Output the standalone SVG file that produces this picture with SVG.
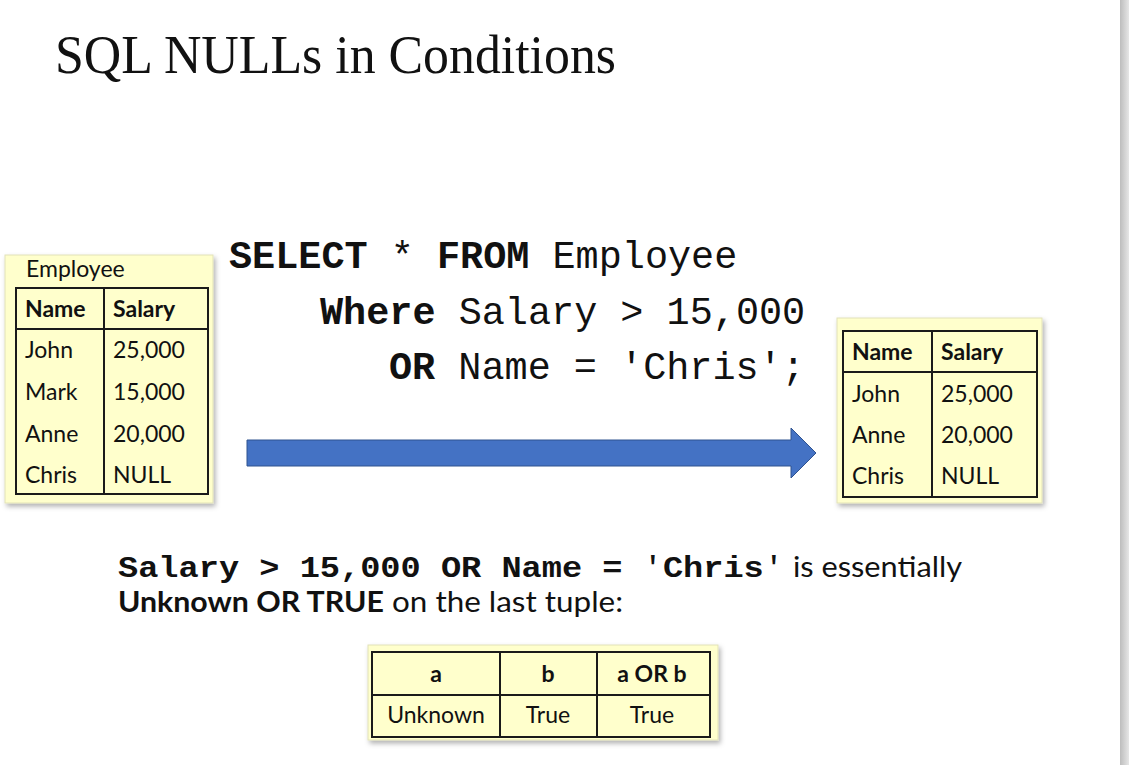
<svg xmlns="http://www.w3.org/2000/svg" width="1129" height="765" viewBox="0 0 1129 765">
<defs>
  <filter id="sh" x="-10%" y="-10%" width="125%" height="125%">
    <feDropShadow dx="2" dy="3" stdDeviation="2.5" flood-color="#000" flood-opacity="0.3"/>
  </filter>
  <linearGradient id="bar" x1="0" y1="0" x2="1" y2="0">
    <stop offset="0" stop-color="#bdbdbd"/>
    <stop offset="1" stop-color="#e6e6e6"/>
  </linearGradient>
</defs>
<style>
  .box { fill: #FFFFCC; stroke: #e2e2b8; stroke-width: 1; }
  .tbl { fill: none; stroke: #1a1a1a; stroke-width: 2; }
  .ln { stroke: #1a1a1a; stroke-width: 2; }
  .cell { font-family: Lato, "Liberation Sans", sans-serif; font-size: 23px; fill: #111; }
  .b { font-weight: bold; }
  .code { font-family: "Liberation Mono", "Courier New", monospace; font-size: 38.5px; fill: #111; }
  .mono { font-family: "Liberation Mono", "Courier New", monospace; font-weight: bold; font-size: 30px; fill: #111; }
  .sans { font-family: Lato, "Liberation Sans", sans-serif; font-size: 28px; fill: #111; }
</style>
<rect x="0" y="0" width="1129" height="765" fill="#ffffff"/>
<rect x="1120" y="0" width="9" height="765" fill="url(#bar)"/>

<text x="55" y="73" font-family="'Liberation Serif', 'DejaVu Serif', serif" font-size="54" fill="#111" textLength="561" lengthAdjust="spacingAndGlyphs">SQL NULLs in Conditions</text>

<g id="employee-table">
  <rect class="box" x="5" y="255" width="208" height="248" filter="url(#sh)"/>
  <text class="cell" x="26" y="277">Employee</text>
  <rect class="tbl" x="16" y="288" width="192" height="206"/>
  <line class="ln" x1="16" y1="329" x2="208" y2="329"/>
  <line class="ln" x1="104" y1="288" x2="104" y2="494"/>
  <text class="cell b" x="25" y="317">Name</text>
  <text class="cell b" x="113" y="317">Salary</text>
  <text class="cell" x="25" y="358">John</text>
  <text class="cell" x="113" y="358">25,000</text>
  <text class="cell" x="25" y="400">Mark</text>
  <text class="cell" x="113" y="400">15,000</text>
  <text class="cell" x="25" y="442">Anne</text>
  <text class="cell" x="113" y="442">20,000</text>
  <text class="cell" x="25" y="483">Chris</text>
  <text class="cell" x="113" y="483">NULL</text>
</g>

<g id="query">
  <text class="code" x="229" y="268"><tspan font-weight="bold">SELECT</tspan> * <tspan font-weight="bold">FROM</tspan> Employee</text>
  <text class="code" x="320" y="324"><tspan font-weight="bold">Where</tspan> Salary &gt; 15,000</text>
  <text class="code" x="389" y="379"><tspan font-weight="bold">OR</tspan> Name = 'Chris';</text>
</g>

<g id="connectors">
  <polygon points="247,440 791,440 791,428 816,453 791,478 791,466 247,466" fill="#4472C4" stroke="#2F528F" stroke-width="1"/>
</g>

<g id="result-table">
  <rect class="box" x="837" y="318" width="205" height="185" filter="url(#sh)"/>
  <rect class="tbl" x="843" y="331" width="194" height="166"/>
  <line class="ln" x1="843" y1="372" x2="1037" y2="372"/>
  <line class="ln" x1="932" y1="331" x2="932" y2="497"/>
  <text class="cell b" x="852" y="360">Name</text>
  <text class="cell b" x="941" y="360">Salary</text>
  <text class="cell" x="852" y="402">John</text>
  <text class="cell" x="941" y="402">25,000</text>
  <text class="cell" x="852" y="443">Anne</text>
  <text class="cell" x="941" y="443">20,000</text>
  <text class="cell" x="852" y="484">Chris</text>
  <text class="cell" x="941" y="484">NULL</text>
</g>

<g id="explanation">
  <text class="mono" x="118" y="577" textLength="666" lengthAdjust="spacingAndGlyphs">Salary &gt; 15,000 OR Name = <tspan font-weight="normal">'</tspan>Chris<tspan font-weight="normal">'</tspan></text>
  <text class="sans" x="793" y="577" textLength="169" lengthAdjust="spacingAndGlyphs">is essentially</text>
  <text class="sans b" x="118" y="612" textLength="266" lengthAdjust="spacingAndGlyphs">Unknown OR TRUE</text>
  <text class="sans" x="392" y="612" textLength="231" lengthAdjust="spacingAndGlyphs">on the last tuple:</text>
</g>

<g id="truth-table">
  <rect class="box" x="368" y="645" width="350" height="95" filter="url(#sh)"/>
  <rect class="tbl" x="372" y="652" width="338" height="85"/>
  <line class="ln" x1="372" y1="695" x2="710" y2="695"/>
  <line class="ln" x1="500" y1="652" x2="500" y2="737"/>
  <line class="ln" x1="597" y1="652" x2="597" y2="737"/>
  <text class="cell b" x="436" y="682" text-anchor="middle">a</text>
  <text class="cell b" x="548" y="682" text-anchor="middle">b</text>
  <text class="cell b" x="652" y="682" text-anchor="middle">a OR b</text>
  <text class="cell" x="436" y="723" text-anchor="middle">Unknown</text>
  <text class="cell" x="548" y="723" text-anchor="middle">True</text>
  <text class="cell" x="652" y="723" text-anchor="middle">True</text>
</g>
</svg>
